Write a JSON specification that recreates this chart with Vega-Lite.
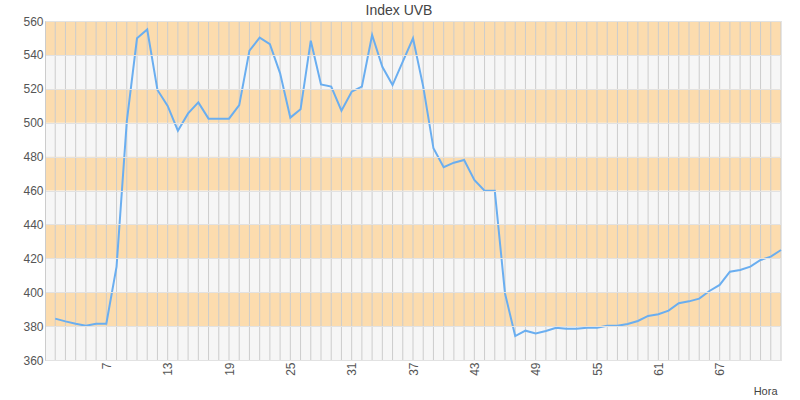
{
  "$schema": "https://vega.github.io/schema/vega-lite/v6.json",
  "width": 736,
  "height": 339,
  "autosize": {"type": "none"},
  "padding": {"left": 45, "top": 21, "right": 19, "bottom": 40},
  "background": "white",
  "config": {
    "view": {"stroke": null},
    "font": "Liberation Sans"
  },
  "title": {
    "text": "Index UVB",
    "anchor": "middle",
    "dx": -14,
    "offset": 0,
    "dy": 14,
    "baseline": "alphabetic",
    "fontSize": 14,
    "fontWeight": "normal",
    "color": "#444444"
  },
  "datasets": {
    "bands": [
      {"lo": 360, "hi": 380, "band": "g"},
      {"lo": 380, "hi": 400, "band": "o"},
      {"lo": 400, "hi": 420, "band": "g"},
      {"lo": 420, "hi": 440, "band": "o"},
      {"lo": 440, "hi": 460, "band": "g"},
      {"lo": 460, "hi": 480, "band": "o"},
      {"lo": 480, "hi": 500, "band": "g"},
      {"lo": 500, "hi": 520, "band": "o"},
      {"lo": 520, "hi": 540, "band": "g"},
      {"lo": 540, "hi": 560, "band": "o"}
    ],
    "uvb": [
      {"hora": 2, "uvb": 384.4},
      {"hora": 3, "uvb": 382.8},
      {"hora": 4, "uvb": 381.4},
      {"hora": 5, "uvb": 380.2},
      {"hora": 6, "uvb": 381.4},
      {"hora": 7, "uvb": 381.4},
      {"hora": 8, "uvb": 415.1},
      {"hora": 9, "uvb": 500.6},
      {"hora": 10, "uvb": 549.8},
      {"hora": 11, "uvb": 555},
      {"hora": 12, "uvb": 519.3},
      {"hora": 13, "uvb": 509.9},
      {"hora": 14, "uvb": 495.3},
      {"hora": 15, "uvb": 505.5},
      {"hora": 16, "uvb": 512},
      {"hora": 17, "uvb": 502.4},
      {"hora": 18, "uvb": 502.4},
      {"hora": 19, "uvb": 502.4},
      {"hora": 20, "uvb": 510.4},
      {"hora": 21, "uvb": 542.5},
      {"hora": 22, "uvb": 550.2},
      {"hora": 23, "uvb": 546.4},
      {"hora": 24, "uvb": 529.1},
      {"hora": 25, "uvb": 503},
      {"hora": 26, "uvb": 507.9},
      {"hora": 27, "uvb": 548.4},
      {"hora": 28, "uvb": 522.6},
      {"hora": 29, "uvb": 521.3},
      {"hora": 30, "uvb": 507.1},
      {"hora": 31, "uvb": 518.3},
      {"hora": 32, "uvb": 521.3},
      {"hora": 33, "uvb": 551.7},
      {"hora": 34, "uvb": 533},
      {"hora": 35, "uvb": 522.2},
      {"hora": 36, "uvb": 536},
      {"hora": 37, "uvb": 549.8},
      {"hora": 38, "uvb": 521.3},
      {"hora": 39, "uvb": 484.9},
      {"hora": 40, "uvb": 473.7},
      {"hora": 41, "uvb": 476.4},
      {"hora": 42, "uvb": 478},
      {"hora": 43, "uvb": 466.2},
      {"hora": 44, "uvb": 459.9},
      {"hora": 45, "uvb": 459.9},
      {"hora": 46, "uvb": 399.3},
      {"hora": 47, "uvb": 374.1},
      {"hora": 48, "uvb": 377.3},
      {"hora": 49, "uvb": 375.7},
      {"hora": 50, "uvb": 377.1},
      {"hora": 51, "uvb": 379},
      {"hora": 52, "uvb": 378.4},
      {"hora": 53, "uvb": 378.4},
      {"hora": 54, "uvb": 379},
      {"hora": 55, "uvb": 379},
      {"hora": 56, "uvb": 380.2},
      {"hora": 57, "uvb": 380.2},
      {"hora": 58, "uvb": 381.2},
      {"hora": 59, "uvb": 383},
      {"hora": 60, "uvb": 386},
      {"hora": 61, "uvb": 387},
      {"hora": 62, "uvb": 389.1},
      {"hora": 63, "uvb": 393.5},
      {"hora": 64, "uvb": 394.6},
      {"hora": 65, "uvb": 396.2},
      {"hora": 66, "uvb": 400.7},
      {"hora": 67, "uvb": 404.3},
      {"hora": 68, "uvb": 412.1},
      {"hora": 69, "uvb": 413.1},
      {"hora": 70, "uvb": 415.1},
      {"hora": 71, "uvb": 419},
      {"hora": 72, "uvb": 421},
      {"hora": 73, "uvb": 424.9}
    ]
  },
  "layer": [
    {
      "data": {"name": "bands"},
      "mark": {"type": "rect"},
      "encoding": {
        "y": {
          "field": "lo",
          "type": "quantitative",
          "scale": {"domain": [360, 560], "nice": false, "zero": false},
          "axis": {
            "title": null,
            "values": [360, 380, 400, 420, 440, 460, 480, 500, 520, 540, 560],
            "labelOverlap": false,
            "grid": true,
            "gridColor": "#e2e2e2",
            "zindex": 1,
            "ticks": false,
            "domain": true,
            "domainColor": "#cccccc",
            "labelPadding": 2,
            "labelFontSize": 12,
            "labelColor": "#555555"
          }
        },
        "y2": {"field": "hi"},
        "x": {"datum": 1, "type": "quantitative"},
        "x2": {"datum": 73},
        "color": {
          "field": "band",
          "type": "nominal",
          "scale": {"domain": ["g", "o"], "range": ["#f6f6f6", "#fcdcae"]},
          "legend": null
        }
      }
    },
    {
      "data": {"name": "uvb"},
      "mark": {"type": "rule", "color": "#cccccc", "strokeWidth": 1},
      "encoding": {
        "x": {"field": "hora", "type": "quantitative"}
      }
    },
    {
      "data": {"name": "uvb"},
      "mark": {"type": "line", "color": "#6aaef0", "strokeWidth": 2},
      "encoding": {
        "x": {
          "field": "hora",
          "type": "quantitative",
          "scale": {"domain": [1, 73], "nice": false, "zero": false},
          "axis": {
            "title": "Hora",
            "values": [7, 13, 19, 25, 31, 37, 43, 49, 55, 61, 67],
            "grid": false,
            "ticks": false,
            "domain": true,
            "domainColor": "#cccccc",
            "labelAngle": 270,
            "labelPadding": 2,
            "labelFontSize": 12,
            "labelColor": "#555555",
            "titleFontSize": 11,
            "titleFontWeight": "normal",
            "titleColor": "#444444",
            "titleAnchor": "end",
            "titleAlign": "right",
            "titleBaseline": "alphabetic",
            "titleX": 732,
            "titleY": 34
          }
        },
        "y": {
          "field": "uvb",
          "type": "quantitative",
          "axis": {
            "title": null,
            "values": [360, 380, 400, 420, 440, 460, 480, 500, 520, 540, 560],
            "labelOverlap": false,
            "grid": true,
            "gridColor": "#e2e2e2",
            "zindex": 1,
            "ticks": false,
            "domain": true,
            "domainColor": "#cccccc",
            "labelPadding": 2,
            "labelFontSize": 12,
            "labelColor": "#555555"
          }
        }
      }
    }
  ]
}
